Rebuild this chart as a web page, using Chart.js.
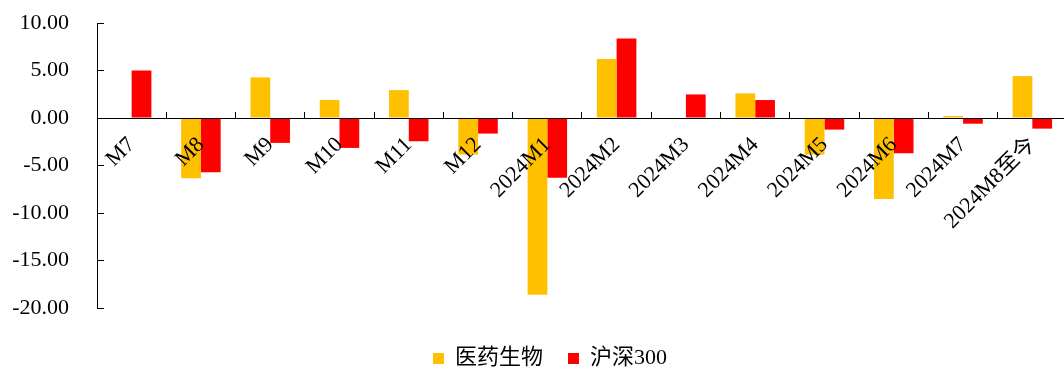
<!DOCTYPE html>
<html lang="zh-CN">
<head>
<meta charset="utf-8">
<title>医药生物 / 沪深300 月度涨跌幅</title>
<script src="https://cdn.jsdelivr.net/npm/chart.js@4.4.1/dist/chart.umd.min.js"></script>
<style>
    html, body { margin: 0; padding: 0; overflow: hidden; background: #ffffff; }
    #wrap { position: relative; width: 1072px; height: 369px; }
</style>
</head>
<body>
<div id="wrap"><canvas id="chart"></canvas></div>
<script>
    // Months on the category axis
    const months = ['M7', 'M8', 'M9', 'M10', 'M11', 'M12', '2024M1', '2024M2',
        '2024M3', '2024M4', '2024M5', '2024M6', '2024M7', '2024M8至今'];

    // Monthly change (%), 医药生物 index
    const pharmaChange = [0, -6.33, 4.27, 1.89, 2.94, -3.85, -18.6, 6.22,
        0, 2.59, -3.85, -8.53, 0.21, 4.41];

    // Monthly change (%), 沪深300
    const csi300Change = [5.0, -5.70, -2.62, -3.15, -2.45, -1.64, -6.29, 8.36,
        2.48, 1.89, -1.22, -3.71, -0.60, -1.12];

    // Value axis range and step
    const yMin = -20;
    const yMax = 10;
    const yStep = 5;

    const FONT_FAMILY = "'Liberation Serif', 'Noto Sans CJK SC', serif";
    const AXIS_COLOR = '#000000';

    // Move the legend row a bit right and down from where the layout puts it
    const legendShift = {
        id: 'legendShift',
        afterLayout(chart) {
            const lg = chart.legend;
            lg.left += 14;
            lg.right += 14;
            lg.top += 14.5;
            lg.bottom += 14.5;
        }
    };

    const ctx = document.getElementById('chart').getContext('2d');
    new Chart(ctx, {
        type: 'bar',
        data: {
            labels: months,
            datasets: [
                {
                    label: '医药生物',
                    data: pharmaChange,
                    backgroundColor: '#FFC000',
                    borderWidth: 0
                },
                {
                    label: '沪深300',
                    data: csi300Change,
                    backgroundColor: '#FF0000',
                    borderWidth: 0
                }
            ]
        },
        options: {
            responsive: true,
            maintainAspectRatio: false,
            animation: false,
            datasets: {
                bar: {
                    categoryPercentage: 0.57,
                    barPercentage: 1.0
                }
            },
            layout: {
                padding: { left: 0, right: 0, top: 23, bottom: 4 }
            },
            scales: {
                x: {
                    position: { y: 0 },
                    grid: {
                        display: true,
                        offset: true,
                        drawOnChartArea: false,
                        drawTicks: true,
                        tickLength: -7,
                        color: AXIS_COLOR,
                        lineWidth: 1
                    },
                    border: { display: true, color: AXIS_COLOR, width: 1, z: 1 },
                    ticks: {
                        z: 1, // month labels sit on top of the bars
                        autoSkip: false,
                        minRotation: 45,
                        maxRotation: 45,
                        padding: 21,
                        color: '#000000',
                        font: { family: FONT_FAMILY, size: 22 }
                    }
                },
                y: {
                    min: yMin,
                    max: yMax,
                    afterFit(scale) {
                        // fixed axis width; labels only need half a line above/below the plot
                        scale.width = 97;
                        scale.paddingTop = 13;
                        scale.paddingBottom = 13;
                    },
                    grid: {
                        display: true,
                        drawOnChartArea: false,
                        drawTicks: true,
                        tickLength: -7,
                        color: AXIS_COLOR,
                        lineWidth: 1
                    },
                    border: { display: true, color: AXIS_COLOR, width: 1 },
                    ticks: {
                        stepSize: yStep,
                        padding: 35,
                        color: '#000000',
                        font: { family: FONT_FAMILY, size: 22 },
                        callback: (value) => Number(value).toFixed(2)
                    }
                }
            },
            plugins: {
                legend: {
                    position: 'bottom',
                    labels: {
                        boxWidth: 11,
                        boxHeight: 11,
                        padding: 25,
                        color: '#000000',
                        font: { family: FONT_FAMILY, size: 22 }
                    }
                },
                tooltip: { enabled: false }
            }
        },
        plugins: [legendShift]
    });
</script>
</body>
</html>
